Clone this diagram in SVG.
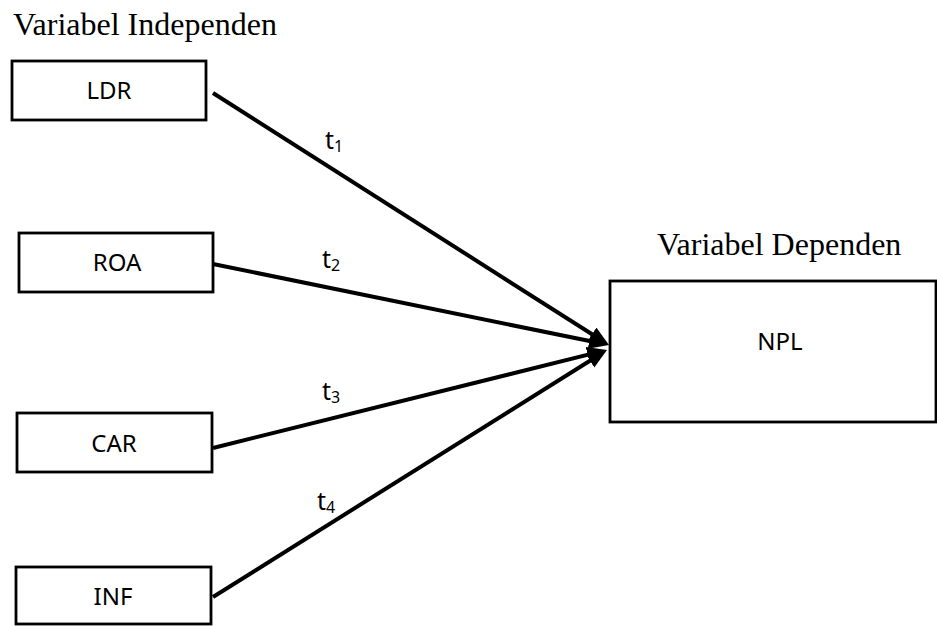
<svg xmlns="http://www.w3.org/2000/svg" width="937" height="626" viewBox="0 0 937 626">
<style>
.box{fill:#fff;stroke:#000;stroke-width:2.8}
.lbl{font-family:"Noto Sans","Open Sans",sans-serif;font-size:24px;fill:#000;text-anchor:middle}
.hdr{font-family:"Liberation Serif","Times New Roman",serif;font-size:32px;fill:#000}
.t{font-family:"Noto Sans","Open Sans",sans-serif;font-size:25px;fill:#000}
.sub{font-size:16px}
.conn{stroke:#000;stroke-width:4;fill:none;marker-end:url(#ah)}
</style>
<defs>
<marker id="ah" markerUnits="userSpaceOnUse" markerWidth="22" markerHeight="18" refX="14" refY="8" orient="auto">
<path d="M0,0 L20,8 L0,16 z" fill="#000"/>
</marker>
</defs>
<rect width="937" height="626" fill="#fff"/>
<text class="hdr" x="13" y="35">Variabel Independen</text>
<text class="hdr" x="657" y="255">Variabel Dependen</text>
<g id="connectors">
<line class="conn" x1="213" y1="93" x2="603.9" y2="341.8"/>
<line class="conn" x1="213" y1="264" x2="603.1" y2="343.8"/>
<line class="conn" x1="213" y1="448" x2="601.2" y2="351.4"/>
<line class="conn" x1="213" y1="597" x2="601.9" y2="353.2"/>
<text class="t" x="325" y="149">t<tspan class="sub" dy="3">1</tspan></text>
<text class="t" x="322" y="268">t<tspan class="sub" dy="3">2</tspan></text>
<text class="t" x="322" y="400">t<tspan class="sub" dy="3">3</tspan></text>
<text class="t" x="317" y="510">t<tspan class="sub" dy="3">4</tspan></text>
</g>
<g id="node-ldr"><rect class="box" x="12" y="61" width="194" height="59"/><text class="lbl" x="109" y="99">LDR</text></g>
<g id="node-roa"><rect class="box" x="19" y="233" width="194" height="59"/><text class="lbl" x="117" y="271">ROA</text></g>
<g id="node-car"><rect class="box" x="17" y="413" width="195" height="59"/><text class="lbl" x="114" y="452">CAR</text></g>
<g id="node-inf"><rect class="box" x="16" y="567" width="195" height="57"/><text class="lbl" x="113" y="605">INF</text></g>
<g id="node-npl"><rect class="box" x="610" y="281" width="326" height="141"/><text class="lbl" x="780" y="350">NPL</text></g>
</svg>
